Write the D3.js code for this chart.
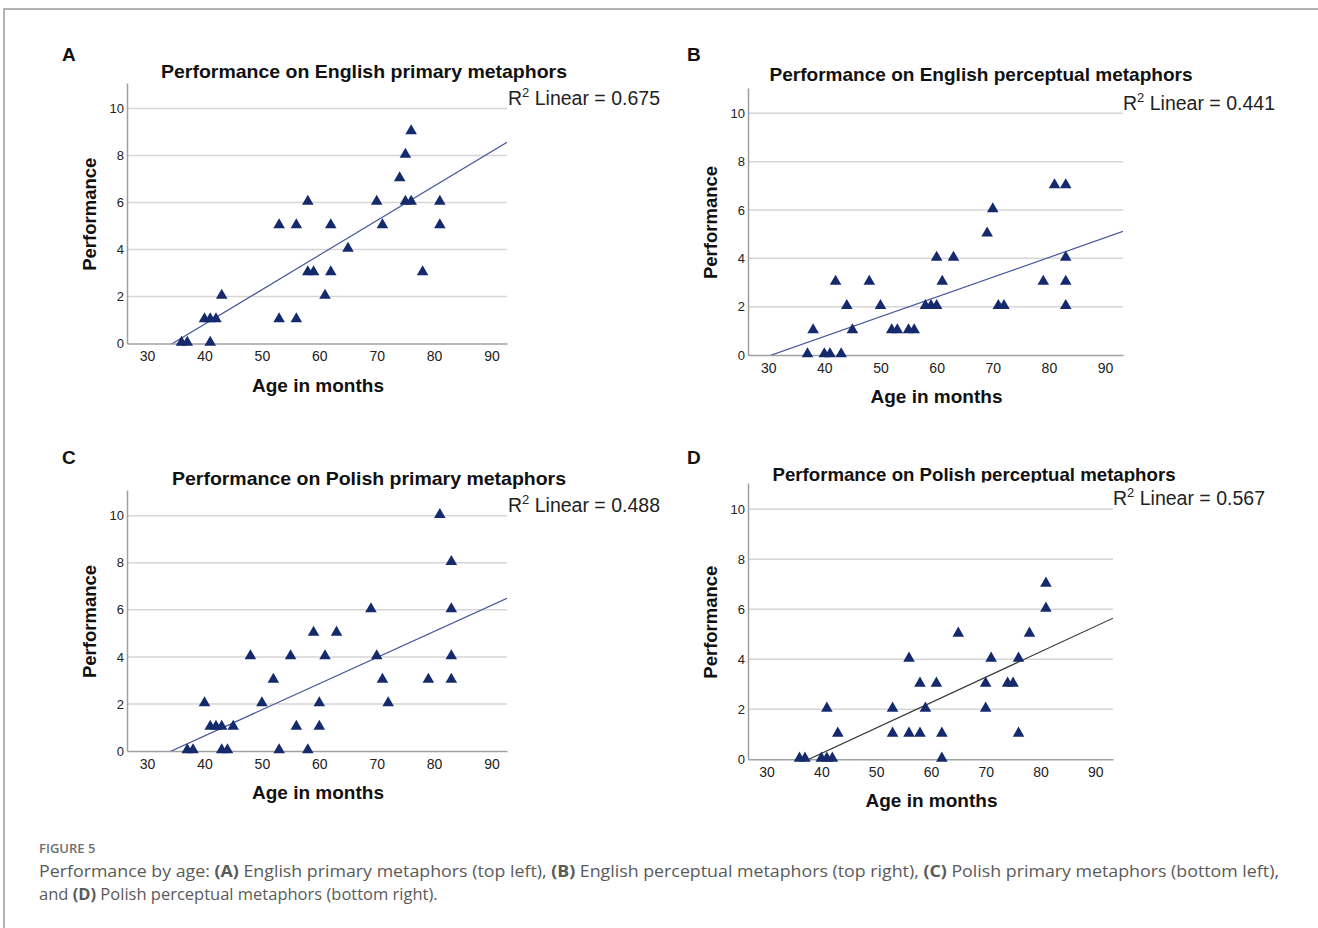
<!DOCTYPE html>
<html><head><meta charset="utf-8">
<script src="https://cdn.jsdelivr.net/npm/d3@7"></script>
<style>
body{margin:0;background:#fff;}
svg{display:block;}
.chart text{font-family:"Liberation Sans", Arial, Helvetica, sans-serif;}
.cap{font-family:"Open Sans", "Noto Sans", sans-serif;}
</style></head>
<body>
<svg id="fig" width="1318" height="928"></svg>
<script>
// ---------- data ----------
const xTicks = [30, 40, 50, 60, 70, 80, 90];
const yTicks = [0, 2, 4, 6, 8, 10];
const panelLetters = ["A", "B", "C", "D"];
const panelTitles = [
  "Performance on English primary metaphors",
  "Performance on English perceptual metaphors",
  "Performance on Polish primary metaphors",
  "Performance on Polish perceptual metaphors"
];
const r2Values = ["0.675", "0.441", "0.488", "0.567"];
const xTitle = "Age in months";
const yTitle = "Performance";

const agesA   = [36,37,41,40,41,42,43,53,53,56,56,58,58,59,61,62,62,65,70,71,74,75,75,76,76,78,81,81];
const scoresA = [0, 0, 0, 1, 1, 1, 2, 1, 5, 1, 5, 6, 3, 3, 2, 5, 3, 4, 6, 5, 7, 8, 6, 9, 6, 3, 6, 5];

const agesB   = [37,38,40,41,43,42,44,45,48,50,52,53,55,56,58,59,60,60,61,63,69,70,71,72,79,81,83,83,83,83];
const scoresB = [0, 1, 0, 0, 0, 3, 2, 1, 3, 2, 1, 1, 1, 1, 2, 2, 2, 4, 3, 4, 5, 6, 2, 2, 3, 7, 7, 4, 3, 2];

const agesC   = [37,38,40,41,42,43,43,44,45,48,50,52,53,55,56,58,59,60,60,61,63,69,70,71,72,79,81,83,83,83,83];
const scoresC = [0, 0, 2, 1, 1, 1, 0, 0, 1, 4, 2, 3, 0, 4, 1, 0, 5, 2, 1, 4, 5, 6, 4, 3, 2, 3,10, 8, 6, 4, 3];

const agesD   = [36,37,40,41,42,41,43,53,53,56,56,58,58,59,61,62,62,65,70,70,71,74,75,76,76,78,81,81];
const scoresD = [0, 0, 0, 0, 0, 2, 1, 2, 1, 4, 1, 3, 1, 2, 3, 1, 0, 5, 3, 2, 4, 3, 3, 4, 1, 5, 6, 7];

// fitted linear lines: [intercept, slope]
const fitA = [-5.06, 0.147];
const fitB = [-2.50, 0.0817];
const fitC = [-3.80, 0.111];
const fitD = [-3.83, 0.1016];

const captionLabel = "FIGURE 5";

// ---------- layout ----------
const panels = [
  {ages: agesA, scores: scoresA, fit: fitA, box: {l:127, r:507, t:83, b:343.5}, unit:23.5, xd:[26.5,92.7], titleX:364, titleY:78, titleW:406, letterX:62, letterY:61, r2X:508, r2Y:105, lineColor:"#46579a", clipTitle:false},
  {ages: agesB, scores: scoresB, fit: fitB, box: {l:748, r:1123, t:88, b:355}, unit:24.17, xd:[26.4,93.2], titleX:981, titleY:81, titleW:423, letterX:687, letterY:61, r2X:1123, r2Y:110, lineColor:"#46579a", clipTitle:false},
  {ages: agesC, scores: scoresC, fit: fitC, box: {l:127, r:507, t:490, b:751}, unit:23.53, xd:[26.5,92.7], titleX:369, titleY:485, titleW:394, letterX:62, letterY:464, r2X:508, r2Y:512, lineColor:"#46579a", clipTitle:false},
  {ages: agesD, scores: scoresD, fit: fitD, box: {l:748, r:1113, t:483, b:759.3}, unit:25.0, xd:[26.6,93.25], titleX:974, titleY:481, titleW:403, letterX:687, letterY:464, r2X:1113, r2Y:505, lineColor:"#3a3a3a", clipTitle:true}
];

const svg = d3.select("#fig");

// figure border (top + left)
svg.append("path").attr("d","M4,928 L4,9 L1318,9").attr("fill","none").attr("stroke","#9a9a9a").attr("stroke-width",1.5);

const defs = svg.append("defs");

panels.forEach((p, i) => {
  const g = svg.append("g").attr("class", "chart");
  const x = d3.scaleLinear().domain(p.xd).range([p.box.l, p.box.r]);
  const y = d3.scaleLinear().domain([0, (p.box.b - p.box.t) / p.unit]).range([p.box.b, p.box.t]);

  // gridlines
  g.append("g").selectAll("line").data(yTicks.filter(v => v > 0)).join("line")
    .attr("x1", p.box.l).attr("x2", p.box.r)
    .attr("y1", d => y(d)).attr("y2", d => y(d))
    .attr("stroke", "#d6d6d6").attr("stroke-width", 1.5);

  // y axis
  const yAxis = d3.axisLeft(y).tickValues(yTicks).tickSize(0).tickPadding(3).tickFormat(d3.format("d"));
  const ya = g.append("g").attr("transform", `translate(${p.box.l},0)`).call(yAxis);
  ya.attr("font-family", null).attr("font-size", null);
  ya.select(".domain").attr("stroke", "#a0a0a0").attr("stroke-width", 1.5);
  ya.selectAll("text").style("font-size", "13px").attr("fill", "#222");

  // x axis
  const xAxis = d3.axisBottom(x).tickValues(xTicks).tickSize(0).tickPadding(8).tickFormat(d3.format("d"));
  const xa = g.append("g").attr("transform", `translate(0,${p.box.b})`).call(xAxis);
  xa.attr("font-family", null).attr("font-size", null);
  xa.select(".domain").attr("stroke", "#a0a0a0").attr("stroke-width", 1.5);
  xa.selectAll("text").style("font-size", "14px").attr("fill", "#222");

  // fit line, clipped to plot area
  const cid = "clip" + i;
  defs.append("clipPath").attr("id", cid).append("rect")
    .attr("x", p.box.l).attr("y", p.box.t).attr("width", p.box.r - p.box.l).attr("height", p.box.b - p.box.t);
  const fx = p.xd;
  g.append("line").attr("clip-path", `url(#${cid})`)
    .attr("x1", x(fx[0])).attr("y1", y(p.fit[0] + p.fit[1] * fx[0]))
    .attr("x2", x(fx[1])).attr("y2", y(p.fit[0] + p.fit[1] * fx[1]))
    .attr("stroke", p.lineColor).attr("stroke-width", 1.2);

  // markers
  const tri = d3.symbol().type(d3.symbolTriangle).size(58);
  g.append("g").selectAll("path").data(p.ages.map((a, k) => [a, p.scores[k]])).join("path")
    .attr("d", tri)
    .attr("transform", d => `translate(${x(d[0])},${y(d[1]) - 1})`)
    .attr("fill", "#142a6c");

  // axis titles
  g.append("text").attr("x", (p.box.l + p.box.r) / 2 + 1).attr("y", p.box.b + 48)
    .attr("text-anchor", "middle").attr("font-weight", "bold")
    .style("font-size", "19px").attr("fill", "#111").text(xTitle);
  g.append("text").attr("transform", `translate(${p.box.l - 31},${(p.box.t + p.box.b) / 2 + 1}) rotate(-90)`)
    .attr("text-anchor", "middle").attr("font-weight", "bold")
    .style("font-size", "18.5px").attr("fill", "#111").text(yTitle);

  // chart title
  const t = g.append("text").attr("x", p.titleX).attr("y", p.titleY)
    .attr("text-anchor", "middle").attr("font-weight", "bold")
    .style("font-size", "19px").attr("fill", "#111").text(panelTitles[i])
    .attr("textLength", p.titleW).attr("lengthAdjust", "spacingAndGlyphs");
  if (p.clipTitle) {
    const tc = "tclip" + i;
    defs.append("clipPath").attr("id", tc).append("rect")
      .attr("x", 0).attr("y", 0).attr("width", 1318).attr("height", p.box.t - 0.5);
    t.attr("clip-path", `url(#${tc})`);
  }

  // R2 label
  const r = g.append("text").attr("x", p.r2X).attr("y", p.r2Y)
    .style("font-size", "19.5px").attr("fill", "#222");
  r.append("tspan").text("R");
  r.append("tspan").style("font-size", "13px").attr("dy", -8).text("2");
  r.append("tspan").attr("dy", 8).text(" Linear = " + r2Values[i]);

  // panel letter
  g.append("text").attr("x", p.letterX).attr("y", p.letterY)
    .attr("font-weight", "bold").style("font-size", "19px").attr("fill", "#111")
    .text(panelLetters[i]);
});

// caption
svg.append("text").attr("class", "cap").attr("x", 39).attr("y", 853).attr("font-weight", 600)
  .style("font-size", "13px").attr("fill", "#6e6e6e").text(captionLabel);

const line1 = [
  ["Performance by age: ", false], ["(A)", true], [" English primary metaphors (top left), ", false],
  ["(B)", true], [" English perceptual metaphors (top right), ", false],
  ["(C)", true], [" Polish primary metaphors (bottom left),", false]
];
const line2 = [["and ", false], ["(D)", true], [" Polish perceptual metaphors (bottom right).", false]];
[[line1, 877], [line2, 900]].forEach(([parts, yy], li) => {
  const t = svg.append("text").attr("class", "cap").attr("x", 39).attr("y", yy)
    .style("font-size", "16.5px").attr("fill", "#5a5a5a");
  parts.forEach(([s, b]) => t.append("tspan").attr("font-weight", b ? 700 : 400).text(s));
  if (li === 0) {
    const w = t.node().getComputedTextLength();
    if (Math.abs(w - 1240) > 4) t.attr("textLength", 1240).attr("lengthAdjust", "spacingAndGlyphs");
  }
});
</script>
</body></html>
